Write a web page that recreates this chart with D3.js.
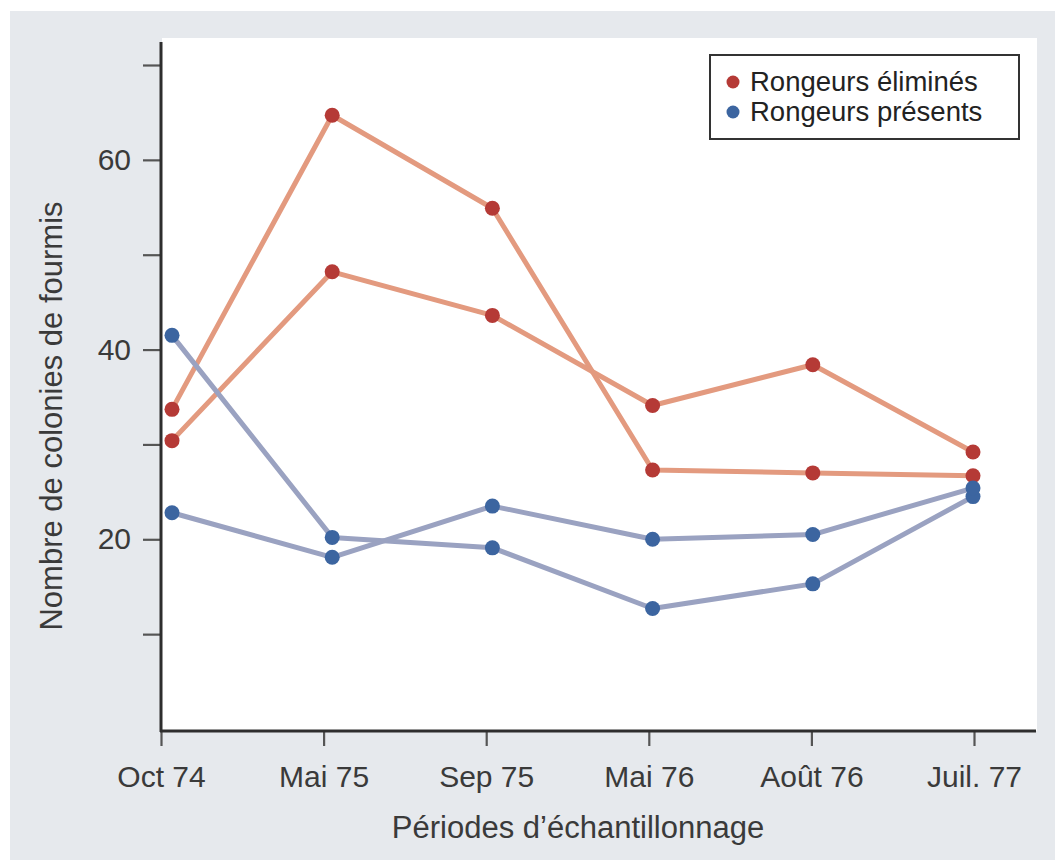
<!DOCTYPE html>
<html>
<head>
<meta charset="utf-8">
<script src="https://cdn.jsdelivr.net/npm/d3@7"></script>
<style>
  html, body { margin: 0; padding: 0; background: #ffffff; }
  svg { display: block; font-family: "Liberation Sans", Arial, Helvetica, sans-serif; }
</style>
</head>
<body>
<svg id="chart" width="1055" height="862"></svg>
<script>
// ---- Data ----
const periods = ["Oct 74", "Mai 75", "Sep 75", "Mai 76", "Août 76", "Juil. 77"];
const removedA = [33.7, 64.7, 54.9, 27.3, 27.0, 26.7];
const removedB = [30.4, 48.2, 43.6, 34.1, 38.4, 29.2];
const presentA = [41.5, 20.2, 19.1, 12.7, 15.3, 24.5];
const presentB = [22.8, 18.1, 23.5, 20.0, 20.5, 25.4];
const yTicks = [10, 20, 30, 40, 50, 60, 70];
const yTickLabels = { 20: "20", 40: "40", 60: "60" };
const legendLabels = ["Rongeurs éliminés", "Rongeurs présents"];
const xTitle = "Périodes d’échantillonnage";
const yTitle = "Nombre de colonies de fourmis";

// ---- Styles ----
const redLine = "#e39a7f", redDot = "#b53a36";
const blueLine = "#9aa2c1", blueDot = "#3c65a0";
const textColor = "#3a3a3a";

const svg = d3.select("#chart");

// backgrounds
svg.append("rect").attr("x", 10).attr("y", 11).attr("width", 1045).attr("height", 849).attr("fill", "#e6e9ed");
svg.append("rect").attr("x", 162).attr("y", 38).attr("width", 875).attr("height", 693).attr("fill", "#ffffff");

// scales
const y = d3.scaleLinear().domain([0, 70]).range([729, 65]);
const xAxisScale = d3.scalePoint().domain(periods).range([161, 974]);
const xMark = d3.scalePoint().domain(periods).range([172, 973]);

// y axis
const yAxis = d3.axisLeft(y).tickValues(yTicks).tickSize(18).tickPadding(12)
  .tickFormat(d => yTickLabels[d] || "");
const gy = svg.append("g").attr("transform", "translate(161,0)").call(yAxis);
gy.select(".domain").remove();
gy.selectAll(".tick line").attr("stroke", "#555").attr("stroke-width", 2.2);
gy.selectAll(".tick text").attr("fill", textColor).style("font-size", "30px")
  .style("font-family", "'Liberation Sans', Arial, sans-serif");
svg.append("line").attr("x1", 161).attr("x2", 161).attr("y1", 42).attr("y2", 732)
  .attr("stroke", "#2e2e2e").attr("stroke-width", 3);

// x axis
const xAxis = d3.axisBottom(xAxisScale).tickSize(15).tickPadding(20);
const gx = svg.append("g").attr("transform", "translate(0,731)").call(xAxis);
gx.select(".domain").remove();
gx.selectAll(".tick line").attr("stroke", "#555").attr("stroke-width", 2.2);
gx.selectAll(".tick text").attr("fill", textColor).style("font-size", "30px")
  .style("font-family", "'Liberation Sans', Arial, sans-serif");
svg.append("line").attr("x1", 160).attr("x2", 1036).attr("y1", 731).attr("y2", 731)
  .attr("stroke", "#2e2e2e").attr("stroke-width", 3);

// axis titles
svg.append("text").attr("x", 578).attr("y", 838).attr("text-anchor", "middle")
  .attr("fill", textColor).style("font-size", "31px").text(xTitle);
svg.append("text").attr("transform", "translate(62,416) rotate(-90)").attr("text-anchor", "middle")
  .attr("fill", textColor).style("font-size", "31px").text(yTitle);

// lines
const line = d3.line().x((d, i) => xMark(periods[i])).y(d => y(d));
const series = [
  { values: removedA, line: redLine, dot: redDot },
  { values: removedB, line: redLine, dot: redDot },
  { values: presentA, line: blueLine, dot: blueDot },
  { values: presentB, line: blueLine, dot: blueDot }
];
series.forEach(s => {
  svg.append("path").datum(s.values).attr("d", line).attr("fill", "none")
    .attr("stroke", s.line).attr("stroke-width", 5).attr("stroke-linejoin", "round");
});
series.forEach(s => {
  svg.append("g").selectAll("circle").data(s.values).join("circle")
    .attr("cx", (d, i) => xMark(periods[i])).attr("cy", d => y(d))
    .attr("r", 7.5).attr("fill", s.dot);
});

// legend
const lg = svg.append("g");
lg.append("rect").attr("x", 710).attr("y", 55).attr("width", 309).attr("height", 84)
  .attr("fill", "#ffffff").attr("stroke", "#333").attr("stroke-width", 2);
const legendColors = [redDot, blueDot];
legendLabels.forEach((lab, i) => {
  lg.append("circle").attr("cx", 733).attr("cy", 82 + i * 30).attr("r", 6.5).attr("fill", legendColors[i]);
  lg.append("text").attr("x", 750).attr("y", 91 + i * 30).attr("fill", "#222")
    .style("font-size", "27.5px").text(lab);
});
</script>
</body>
</html>
